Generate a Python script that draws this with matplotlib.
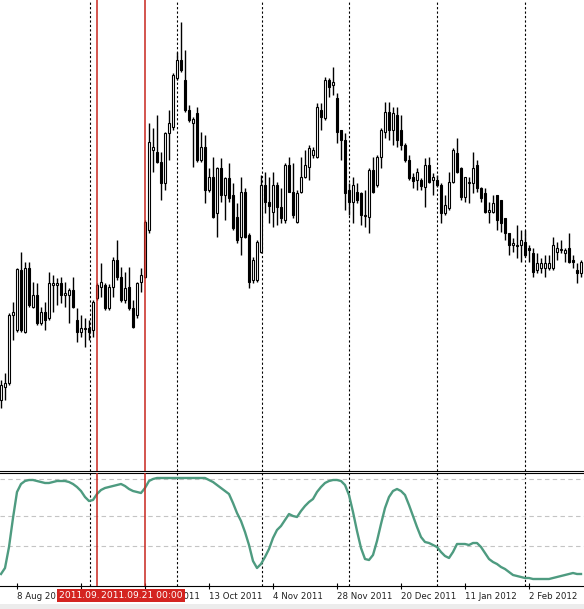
import matplotlib
matplotlib.use("Agg")
import matplotlib.pyplot as plt
from matplotlib.patches import Rectangle

# candle data (one bar per trading day, price in points)
opens = [600, 613, 617, 685, 670, 730, 668, 732, 693, 705, 677, 688, 682, 715, 715, 717, 705, 705, 710, 680,
         668, 671, 672, 670, 702, 713, 715, 692, 713, 740, 723, 700, 713, 692, 685, 718, 723, 770, 850, 848,
         838, 817, 867, 873, 922, 940, 920, 890, 877, 887, 840, 853, 810, 823, 787, 832, 805, 822, 805, 783,
         763, 808, 765, 720, 720, 748, 815, 798, 788, 815, 793, 780, 835, 808, 778, 808, 823, 833, 845, 843,
         890, 882, 920, 915, 902, 870, 860, 810, 798, 808, 807, 784, 783, 830, 815, 843, 868, 888, 870, 885,
         870, 855, 840, 823, 820, 820, 813, 835, 820, 820, 815, 787, 792, 818, 847, 832, 803, 817, 817, 835,
         812, 807, 788, 788, 805, 800, 782, 767, 755, 754, 755, 758, 752, 747, 730, 732, 732, 732, 732, 748,
         750, 747, 752, 740, 730, 727]
highs = [620, 627, 687, 698, 732, 748, 738, 738, 718, 717, 693, 698, 728, 725, 722, 723, 718, 712, 723, 692,
         685, 682, 680, 700, 717, 737, 717, 716, 743, 760, 733, 728, 733, 700, 718, 732, 780, 877, 872, 885,
         848, 868, 890, 927, 948, 978, 950, 895, 883, 893, 868, 865, 832, 843, 833, 842, 823, 837, 817, 797,
         823, 812, 767, 743, 760, 825, 828, 823, 828, 818, 812, 837, 843, 837, 810, 843, 850, 855, 853, 897,
         897, 923, 922, 933, 907, 870, 867, 817, 823, 817, 808, 810, 832, 843, 845, 872, 898, 898, 893, 893,
         885, 857, 845, 827, 832, 822, 842, 843, 827, 825, 817, 805, 828, 852, 862, 833, 823, 823, 848, 840,
         813, 812, 798, 805, 805, 800, 782, 767, 762, 775, 770, 770, 755, 752, 747, 742, 745, 745, 763, 758,
         760, 752, 767, 745, 737, 740]
lows = [592, 600, 615, 660, 668, 668, 667, 693, 692, 675, 675, 670, 680, 688, 695, 697, 693, 677, 692, 658,
        663, 653, 660, 663, 700, 703, 690, 690, 703, 720, 698, 697, 690, 672, 682, 708, 722, 767, 828, 837,
        800, 810, 840, 870, 920, 928, 888, 878, 833, 838, 838, 797, 808, 782, 763, 798, 780, 798, 770, 757,
        745, 762, 712, 717, 718, 747, 787, 777, 773, 775, 777, 777, 808, 782, 777, 807, 822, 820, 842, 842,
        870, 880, 903, 905, 857, 840, 790, 785, 777, 797, 775, 773, 767, 807, 813, 832, 862, 860, 855, 853,
        850, 838, 820, 812, 810, 810, 793, 817, 805, 813, 777, 785, 790, 817, 827, 800, 798, 797, 807, 808,
        798, 787, 777, 787, 770, 768, 760, 745, 748, 742, 738, 743, 738, 723, 727, 727, 723, 730, 730, 740,
        747, 738, 737, 732, 717, 723]
closes = [615, 617, 685, 688, 731, 670, 732, 695, 705, 677, 688, 680, 717, 717, 717, 705, 707, 710, 693, 668,
          672, 672, 668, 698, 715, 718, 692, 713, 740, 723, 700, 712, 692, 673, 717, 725, 778, 858, 853, 838,
          817, 867, 877, 925, 940, 930, 890, 880, 881, 840, 853, 810, 823, 783, 832, 805, 822, 802, 772, 760,
          808, 763, 718, 740, 758, 815, 798, 794, 815, 793, 782, 835, 808, 785, 807, 823, 835, 852, 850, 893,
          883, 920, 913, 918, 868, 860, 807, 798, 815, 800, 785, 785, 830, 808, 843, 870, 888, 870, 887, 860,
          855, 840, 822, 819, 828, 814, 835, 818, 823, 815, 787, 795, 818, 850, 828, 803, 823, 818, 832, 812,
          802, 788, 790, 797, 780, 777, 767, 755, 757, 755, 760, 745, 750, 728, 737, 737, 737, 737, 755, 752,
          751, 750, 738, 738, 727, 738]

# oscillator in the lower window
osc = [5, 11, 32, 61, 87, 95, 98, 99, 99, 98, 97, 96, 96, 97, 98, 98, 98, 97, 95, 92,
       88, 82, 78, 79, 85, 89, 91, 92, 93, 94, 95, 93, 90, 88, 87, 86, 91, 98, 100, 101,
       101, 101, 101, 101, 101, 101, 101, 101, 101, 101, 101, 101, 99, 97, 94, 91, 88, 85, 76, 66,
       58, 47, 34, 18, 11, 15, 22, 30, 41, 49, 53, 59, 65, 63, 62, 68, 73, 77, 80, 87,
       92, 96, 98, 99, 99, 98, 94, 84, 67, 48, 31, 20, 19, 24, 38, 55, 71, 82, 88, 90,
       88, 84, 74, 63, 52, 42, 37, 36, 34, 32, 27, 23, 21, 27, 35, 35, 35, 34, 36, 36,
       32, 26, 20, 17, 15, 12, 10, 7, 4, 3, 2, 1, 1, 0, 0, 0, 0, 0, 1, 2,
       3, 4, 5, 6, 5, 5]
osc_levels = [100, 63, 33]

# the 30 Aug label sits fully under the red marker boxes, so it is left blank
tick_bars = [4, 20, 36, 52, 68, 84, 100, 116, 132]
tick_labels = ["8 Aug 2011", "", "21 Sep 2011", "13 Oct 2011", "4 Nov 2011",
               "28 Nov 2011", "20 Dec 2011", "11 Jan 2012", "2 Feb 2012"]
grid_bars = [22.25, 44, 65.25, 87, 109, 131]
marker_bars = [24, 36]
marker_labels = ["2011.09.05 00:00", "2011.09.21 00:00"]

W, H = 584, 609
RED = "#c8261e"
fig = plt.figure(figsize=(W / 100, H / 100), dpi=100)
fig.patch.set_facecolor("white")
fig.patches.append(Rectangle((0, 0), 1, 5 / H, transform=fig.transFigure,
                             facecolor="#ececec", edgecolor="none"))

ax = fig.add_axes([0, 1 - 470.5 / H, 1, 470.5 / H])
ax2 = fig.add_axes([0, 1 - 586 / H, 1, (586 - 472.5) / H])

n = len(closes)
xs = list(range(n))
for a in (ax, ax2):
    a.set_xlim(-0.25, n - 0.25)
    a.set_facecolor("white")
    for s in ("left", "right"):
        a.spines[s].set_visible(False)
    for g in grid_bars:
        a.axvline(g, color="black", lw=0.8, ls=(0, (2, 2)), zorder=1)
    for m in marker_bars:
        a.axvline(m, color=RED, lw=1.1, zorder=5)

# candles
ax.vlines(xs, lows, highs, color="black", lw=1.0, zorder=2)
bottoms = [min(o, c) for o, c in zip(opens, closes)]
heights = [max(abs(c - o), 0.8) for o, c in zip(opens, closes)]
colors = ["white" if c >= o else "black" for o, c in zip(opens, closes)]
ax.bar(xs, heights, bottom=bottoms, width=0.7, color=colors, edgecolor="black",
       linewidth=0.8, zorder=3)
ax.set_ylim(1000 - 470.5, 1000)
ax.spines["top"].set_visible(False)
ax.spines["bottom"].set_color("black")
ax.set_xticks([])
ax.set_yticks([])

# oscillator
for lv in osc_levels:
    ax2.axhline(lv, color="#c4c4c4", lw=0.8, ls=(0, (4, 3)), zorder=1)
ax2.plot(xs, osc, color="#4e9b80", lw=1.7, zorder=4, solid_joinstyle="round")
ax2.set_ylim(579 - 586, 579 - 472.5)
ax2.set_yticks([])
ax2.spines["top"].set_color("black")
ax2.spines["bottom"].set_color("black")
ax2.set_xticks(tick_bars)
ax2.set_xticklabels(tick_labels, ha="left", fontsize=6.2, color="#202020")
ax2.tick_params(axis="x", direction="inout", length=5, width=0.8, pad=1.5)

# vertical line date labels
trans = ax2.get_xaxis_transform()
for m, lab, off in zip(marker_bars, marker_labels, [0.75, -0.75]):
    ax2.text(m + off, -0.085, lab, transform=trans, ha="center", va="center",
             fontsize=6.6, color="white", zorder=10, clip_on=False,
             bbox=dict(boxstyle="square,pad=0.22", facecolor="#d42420", edgecolor="none"))

fig.savefig("out.png", dpi=100, facecolor=fig.get_facecolor())
